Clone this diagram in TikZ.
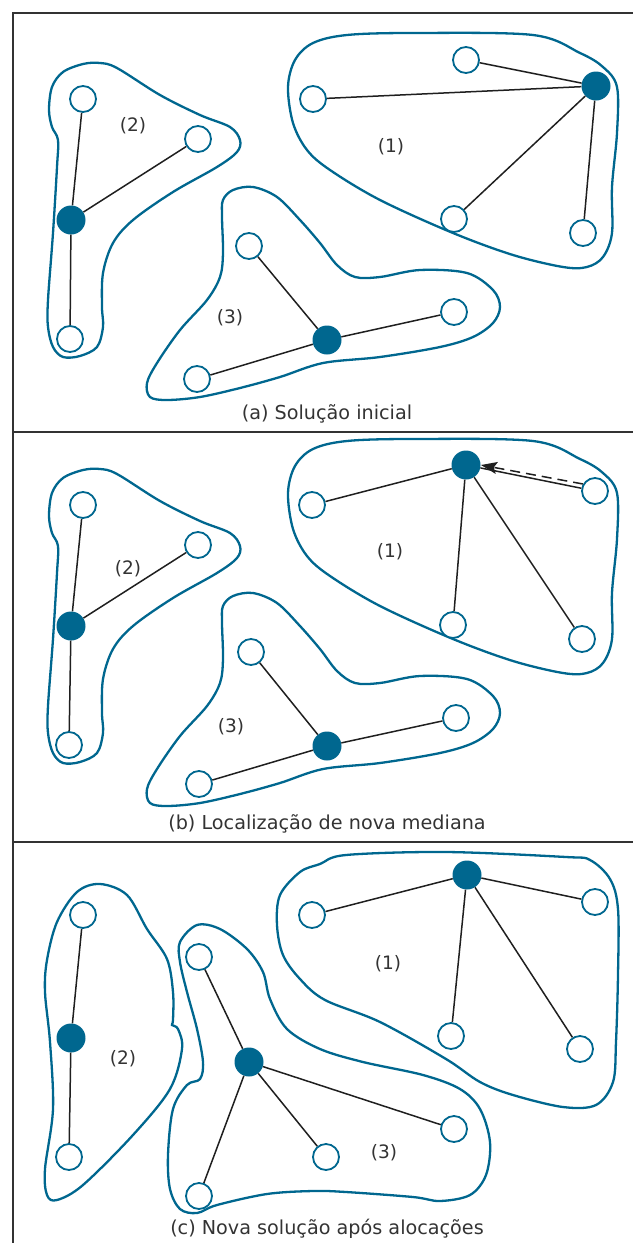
\documentclass[tikz,border=0pt]{standalone}
\usepackage{fontspec}
\setmainfont{DejaVu Sans}
\usetikzlibrary{arrows.meta,calc}
\definecolor{nblue}{HTML}{00678F}
\definecolor{ntext}{HTML}{333333}
\begin{document}
\begin{tikzpicture}[x=1pt,y=-1pt,
  open/.style={circle,draw=nblue,fill=white,line width=1.8pt,minimum size=26pt,inner sep=0pt},
  med/.style={circle,fill=nblue,minimum size=29pt,inner sep=0pt},
  edge/.style={draw=black!88,line width=1.5pt},
  region/.style={draw=nblue,line width=2.3pt},
  frame/.style={draw=ntext,line width=2.6pt},
  lbl/.style={text=ntext,font=\fontsize{18.5}{18.5}\selectfont},
  captxt/.style={text=ntext,font=\fontsize{19.2}{19.2}\selectfont}]
\useasboundingbox (0,0) rectangle (633,1243);
% frame
\draw[frame] (13,1243) -- (13,13) -- (633,13);
\draw[frame] (13,432) -- (633,432);
\draw[frame] (13,842) -- (633,842);

% regions of panels (a) and (b)
\foreach \dy in {0,406}{
\begin{scope}[shift={(0,\dy)}]
\draw[region] plot[smooth cycle, tension=0.55] coordinates {(288,87) (295,60) (313,43) (347,35) (413,33) (533,35) (580,53) (603,67) (617,87) (617,133) (612,187) (612,233) (603,257) (587,267) (563,267) (513,255) (453,233) (380,200) (330,170) (307,150) (293,123)};
\draw[region] plot[smooth cycle, tension=0.55] coordinates {(52,87) (63,72) (83,64) (100,63) (117,68) (160,95) (200,115) (230,127) (240,140) (237,152) (217,167) (173,192) (133,220) (113,243) (103,273) (102,307) (103,327) (97,347) (80,356) (63,357) (53,347) (48,327) (48,300) (53,233) (57,167) (58,140) (52,127) (49,110)};
\draw[region] plot[smooth cycle, tension=0.55] coordinates {(223,200) (233,190) (253,187) (277,197) (300,220) (320,243) (337,265) (355,277) (380,277) (420,270) (467,273) (493,290) (500,307) (493,323) (473,337) (440,347) (380,357) (323,363) (280,377) (240,388) (200,397) (167,400) (150,397) (147,383) (157,363) (180,330) (207,300) (220,277) (223,253) (222,217)};
\end{scope}}

% regions of panel (c)
\draw[region] plot[smooth cycle, tension=0.55] coordinates {(280,895) (300,872) (320,864) (346,855) (446,852) (566,857) (590,860) (610,879) (618,909) (618,975) (616,1042) (613,1082) (596,1105) (563,1107) (513,1095) (480,1082) (446,1059) (380,1022) (325,1000) (300,979) (283,955) (277,925)};
\draw[region] plot[smooth cycle, tension=0.55] coordinates {(57,922) (77,892) (100,884) (127,895) (147,929) (167,959) (173,992) (173,1020) (172,1025) (178,1029) (182,1049) (170,1089) (133,1135) (83,1185) (57,1200) (47,1195) (45,1169) (53,1109) (50,1042) (45,992) (47,960)};
\draw[region] plot[smooth cycle, tension=0.55] coordinates {(180,942) (197,925) (220,929) (247,949) (263,972) (270,999) (287,1029) (320,1049) (363,1062) (423,1075) (460,1089) (480,1109) (490,1142) (486,1175) (470,1195) (440,1201) (413,1197) (346,1192) (313,1191) (267,1194) (217,1205) (197,1213) (180,1209) (170,1189) (168,1155) (173,1109) (187,1085) (200,1079) (203,1062) (197,1029) (187,992) (180,962)};

% ---------- panel (a) ----------
\node[med]  (A1m) at (596,86) {};
\node[open] (A1p) at (313,99) {};
\node[open] (A1q) at (466,60) {};
\node[open] (A1r) at (454,219) {};
\node[open] (A1s) at (583,233) {};
\node[med]  (A2m) at (71,220) {};
\node[open] (A2p) at (83,99) {};
\node[open] (A2q) at (198,139) {};
\node[open] (A2r) at (70,339) {};
\node[med]  (A3m) at (327,340) {};
\node[open] (A3p) at (249,246) {};
\node[open] (A3q) at (454,312) {};
\node[open] (A3r) at (197,379) {};
\foreach \a/\b in {A1m/A1p,A1m/A1q,A1m/A1r,A1m/A1s,A2m/A2p,A2m/A2q,A2m/A2r,A3m/A3p,A3m/A3q,A3m/A3r}
  \draw[edge] (\a) -- (\b);
\node[lbl] (La1) at (391,147) {(1)};
\node[lbl] (La2) at (133,126) {(2)};
\node[lbl] (La3) at (230,318) {(3)};
\node[captxt] (Ca) at (327,414) {(a) Solução inicial};

% ---------- panel (b) ----------
\node[med]  (B1m) at (466,465) {};
\node[open] (B1p) at (312,505) {};
\node[open] (B1q) at (595,491) {};
\node[open] (B1r) at (453,625) {};
\node[open] (B1s) at (582,639) {};
\node[med]  (B2m) at (71,626) {};
\node[open] (B2p) at (83,505) {};
\node[open] (B2q) at (198,545) {};
\node[open] (B2r) at (69,745) {};
\node[med]  (B3m) at (327,746) {};
\node[open] (B3p) at (251,652) {};
\node[open] (B3q) at (456,718) {};
\node[open] (B3r) at (199,784) {};
\foreach \a/\b in {B1m/B1p,B1m/B1q,B1m/B1r,B1m/B1s,B2m/B2p,B2m/B2q,B2m/B2r,B3m/B3p,B3m/B3q,B3m/B3r}
  \draw[edge] (\a) -- (\b);
\coordinate (dS) at (583,484);
\coordinate (dE) at (481,465);
\draw[edge,dash pattern=on 10pt off 6pt,-{Stealth[length=16pt,width=12pt,inset=3pt]}] (dS) -- (dE);
\node[lbl] (Lb1) at (390,552) {(1)};
\node[lbl] (Lb2) at (128,569) {(2)};
\node[lbl] (Lb3) at (231,727) {(3)};
\node[captxt] (Cb) at (327,824) {(b) Localização de nova mediana};

% ---------- panel (c) ----------
\node[med]  (C1m) at (467,875) {};
\node[open] (C1p) at (312,915) {};
\node[open] (C1q) at (595,902) {};
\node[open] (C1r) at (451,1036) {};
\node[open] (C1s) at (580,1049) {};
\node[med]  (C2m) at (71,1038) {};
\node[open] (C2p) at (83,915) {};
\node[open] (C2r) at (69,1157) {};
\node[med]  (C3m) at (249,1062) {};
\node[open] (C3p) at (199,957) {};
\node[open] (C3r) at (199,1196) {};
\node[open] (C3s) at (326,1157) {};
\node[open] (C3q) at (454,1129) {};
\foreach \a/\b in {C1m/C1p,C1m/C1q,C1m/C1r,C1m/C1s,C2m/C2p,C2m/C2r,C3m/C3p,C3m/C3r,C3m/C3s,C3m/C3q}
  \draw[edge] (\a) -- (\b);
\node[lbl] (Lc1) at (388,964) {(1)};
\node[lbl] (Lc2) at (123,1059) {(2)};
\node[lbl] (Lc3) at (384,1153) {(3)};
\node[captxt] (Cc) at (327,1229) {(c) Nova solução após alocações};
\end{tikzpicture}
\end{document}
